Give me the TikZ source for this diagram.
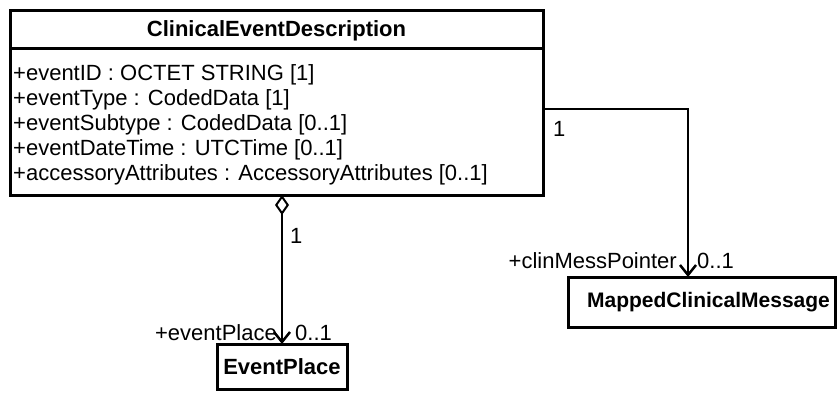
\documentclass[tikz,border=0pt]{standalone}
\usepackage{fontspec}
\setmainfont{Liberation Sans}
\usetikzlibrary{arrows.meta}
\begin{document}
\begin{tikzpicture}[x=1pt,y=-1pt,
  umlbox/.style={draw, line width=3pt, inner sep=0pt, outer sep=0pt, font=\fontsize{22}{25}\selectfont\bfseries},
  txt/.style={inner sep=0pt, font=\fontsize{22}{25}\selectfont},
  conn/.style={line width=2.5pt},
  barb/.style={-{Straight Barb[length=10pt,width=16pt,line width=2.5pt]}}
]
\useasboundingbox (0,0) rectangle (838,392);
% main class
\node[umlbox, minimum width=533pt, minimum height=185pt, anchor=north west] (ced) at (10,10) {};
\draw[line width=3pt] (10,48) -- (543,48);
\node[txt, font=\fontsize{22}{25}\selectfont\bfseries, anchor=base] (hdr) at (276.5,36) {ClinicalEventDescription};
\node[txt, anchor=base west] (a1) at (13,80) {+eventID : OCTET STRING [1]};
\node[txt, anchor=base west] (a2) at (13,105) {+eventType : CodedData [1]};
\node[txt, anchor=base west] (a3) at (13,130) {+eventSubtype : CodedData [0..1]};
\node[txt, anchor=base west] (a4) at (13,155) {+eventDateTime : UTCTime [0..1]};
\node[txt, anchor=base west] (a5) at (13,180) {+accessoryAttributes : AccessoryAttributes [0..1]};
% other classes
\node[umlbox, minimum width=267pt, minimum height=50pt, anchor=north west, font=\fontsize{21}{25}\selectfont\bfseries] (mcm) at (568,277) {\hspace*{14pt}MappedClinicalMessage};
\node[umlbox, minimum width=130pt, minimum height=45pt, anchor=north west] (ep) at (217,344) {EventPlace};
% aggregation
\draw[conn, {Diamond[open,length=20pt,width=14pt,line width=2pt]}-{Straight Barb[length=10pt,width=16pt,line width=2.5pt]}]
  (ced.south -| ep.north) -- (ep.north);
\node[txt, anchor=base west] (m1) at (290,243) {1};
\node[txt, anchor=base east] (r1) at (277,340) {+eventPlace};
\node[txt, anchor=base west] (m2) at (295,340) {0..1};
% association
\coordinate (k1) at (688,109);
\draw[conn, barb] (ced.east |- k1) -- (k1) -- (k1 |- mcm.north);
\node[txt, anchor=base west] (m3) at (553,136) {1};
\node[txt, anchor=base east] (r2) at (677,268) {+clinMessPointer};
\node[txt, anchor=base west] (m4) at (697,268) {0..1};
\end{tikzpicture}
\end{document}
